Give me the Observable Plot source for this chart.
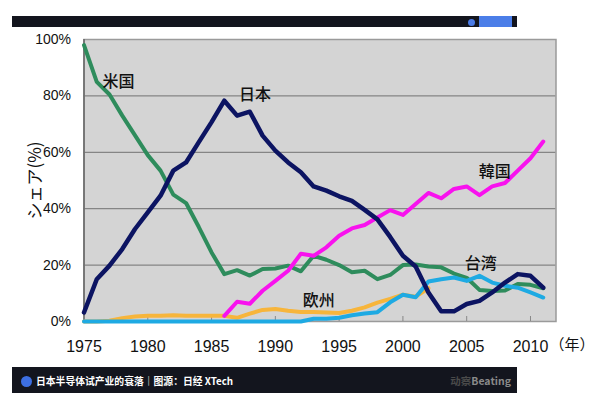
<!DOCTYPE html>
<html><head><meta charset="utf-8">
<script src="https://cdn.jsdelivr.net/npm/d3@7"></script>
<script src="https://cdn.jsdelivr.net/npm/@observablehq/plot@0.6"></script>
<style>
html,body{margin:0;padding:0;background:#fff;}
#wrap{position:relative;width:600px;height:399px;overflow:hidden;font-family:Arial,"Liberation Sans",sans-serif;}
#chart{position:absolute;left:0;top:0;}
.dark{position:absolute;background:#13151e;}
.dot{position:absolute;border-radius:50%;background:#4a7be6;}
#foottext{position:absolute;left:36px;top:373px;height:16px;line-height:16px;font-family:"Noto Sans CJK SC",sans-serif;font-weight:bold;font-size:9.8px;color:#fff;white-space:nowrap;}
#brand{position:absolute;right:89px;top:373px;height:16px;line-height:16px;font-family:"Noto Sans CJK SC",sans-serif;font-weight:bold;font-size:10.5px;color:#8a8a8a;white-space:nowrap;}
#brand span{color:#4a4a4a;}
</style></head><body>
<div id="wrap">
  <div id="chart"></div>
  <div class="dark" style="left:12px;top:16px;width:505px;height:11px;"></div>
  <div class="dot" style="left:467.5px;top:18.5px;width:7px;height:7px;"></div>
  <div style="position:absolute;left:479px;top:16px;width:33px;height:11px;background:#4b7ee8;"></div>
  <div class="dark" style="left:12px;top:367px;width:505px;height:26px;"></div>
  <div class="dot" style="left:20.5px;top:375.5px;width:11px;height:11px;background:#3d6fe3;"></div>
  <div id="foottext">日本半导体试产业的衰落｜图源：日经 XTech</div>
  <div id="brand"><span>动察</span>Beating</div>
</div>
<script>
const years = d3.range(1975, 2012);
const usa = [98, 85, 80.5, 73, 66, 59, 53.5, 45, 42, 33.5, 24.5, 16.8, 18.2, 16.3, 18.6, 18.8, 19.8, 17.8, 23.3, 21.9, 20, 17.5, 18, 15, 16.5, 20, 20.2, 19.5, 19.2, 17, 15.5, 11.2, 10.8, 11, 13.3, 13, 11.8];
const japan = [3.2, 15, 19.8, 25.7, 32.8, 38.7, 44.6, 53.5, 56.4, 63.6, 70.7, 78.3, 73, 74.4, 65.9, 60.6, 56.4, 52.9, 47.9, 46.4, 44.4, 42.8, 39.6, 36.2, 30, 23.3, 19.5, 10.3, 3.6, 3.6, 6.2, 7.3, 10.3, 13.8, 16.8, 16.2, 12];
const koreaYears = d3.range(1986, 2012);
const korea = [2, 7, 6.3, 10.9, 14.4, 18, 24, 23.3, 26.3, 30.4, 33, 34.2, 36.9, 39.5, 37.8, 41.7, 45.6, 43.7, 47, 47.9, 44.8, 47.9, 49.1, 53.5, 57.9, 63.8];
const europeYears = d3.range(1975, 2003);
const europe = [0, 0, 0.3, 1.2, 1.8, 2, 2, 2.2, 2, 2, 2, 2, 1.3, 2.8, 4.1, 4.4, 3.8, 3.4, 3.4, 3.2, 3, 3.8, 5, 6.7, 8, 9.5, 8.8, 11.8];
const taiwan = [0, 0, 0, 0, 0, 0, 0, 0, 0, 0, 0, 0, 0, 0, 0, 0, 0, 0, 1, 1, 1.3, 2.2, 2.8, 3.3, 6.8, 9.5, 8.6, 14.2, 15, 15.6, 14.4, 16.2, 13.8, 12.7, 12, 10.3, 8.5];
const xTicks = [1975, 1980, 1985, 1990, 1995, 2000, 2005, 2010];
const yTicks = [0, 20, 40, 60, 80, 100];
const gridValues = [20, 40, 60, 80];
const labelNames = ["米国", "日本", "韓国", "台湾", "欧州"];
const labelYears = [1977.7, 1988.4, 2007.2, 2006.1, 1993.4];
const labelValues = [84.8, 80.3, 53, 20.6, 7.3];

const toRows = (xs, vs) => xs.map((x, i) => ({year: x, value: vs[i]}));
const labels = labelNames.map((n, i) => ({name: n, year: labelYears[i], value: labelValues[i]}));
const lineStyle = {x: "year", y: "value", strokeWidth: 4, strokeLinejoin: "round", strokeLinecap: "round"};

const chart = Plot.plot({
  width: 600, height: 399,
  marginLeft: 83.5, marginRight: 44.5, marginTop: 39, marginBottom: 78,
  x: {domain: [1975, 2012]},
  y: {domain: [0, 100]},
  style: {fontFamily: "Arial, 'Liberation Sans', sans-serif", background: "transparent", overflow: "visible", color: "#111"},
  marks: [
    Plot.frame({fill: "#d4d4d4", stroke: null}),
    Plot.ruleY(gridValues, {stroke: "#858585", strokeWidth: 1.3}),
    Plot.frame({stroke: "#9a9a9a", strokeWidth: 1.5}),
    Plot.ruleX([1975], {stroke: "#666", strokeWidth: 1.5}),
    Plot.axisX({ticks: xTicks, tickFormat: d => String(d), tickSize: -5, tickPadding: 24, fontSize: 16, stroke: "#888", fill: "#111", label: null}),
    Plot.axisY({ticks: yTicks, tickFormat: d => d + "%", tickSize: 0, tickPadding: 13, fontSize: 14, fill: "#111", label: null}),
    Plot.axisY({ticks: [], label: "シェア(%)", labelAnchor: "center", labelOffset: 55, fontSize: 17, fontFamily: "'Noto Sans CJK JP', sans-serif", labelArrow: "none", fill: "#111"}),
    Plot.line(toRows(europeYears, europe), {...lineStyle, stroke: "#f7b53b"}),
    Plot.line(toRows(years, usa), {...lineStyle, stroke: "#2e8c5c"}),
    Plot.line(toRows(koreaYears, korea), {...lineStyle, stroke: "#f812ee"}),
    Plot.line(toRows(years, taiwan), {...lineStyle, stroke: "#1eaae3"}),
    Plot.line(toRows(years, japan), {...lineStyle, stroke: "#0c1462", strokeWidth: 4.5}),
    Plot.text(labels, {x: "year", y: "value", text: "name", fontSize: 16, fontWeight: 500, fontFamily: "'Noto Sans CJK JP', sans-serif", fill: "#111"}),
    Plot.text(["（年）"], {frameAnchor: "bottom-right", textAnchor: "middle", lineAnchor: "middle", dx: 16, dy: 24, fontSize: 15, fontFamily: "'Noto Sans CJK JP', sans-serif", fill: "#111"})
  ]
});
document.getElementById("chart").appendChild(chart);
</script>
</body></html>
